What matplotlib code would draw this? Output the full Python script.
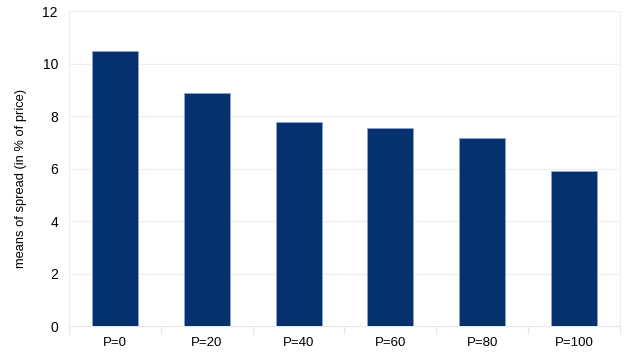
import matplotlib
matplotlib.use("Agg")
import matplotlib.pyplot as plt
import numpy as np

# means of spread per P level
labels = ['P=0', 'P=20', 'P=40', 'P=60', 'P=80', 'P=100']
spread = [10.46, 8.86, 7.78, 7.54, 7.18, 5.92]

plt.rcParams['font.family'] = ['Liberation Sans', 'DejaVu Sans']

fig = plt.figure(figsize=(6.28, 3.56), dpi=100)
ax = fig.add_axes([0.110, 0.084, 0.877, 0.885])

x = np.arange(len(labels))
ax.bar(x, spread, width=0.5, color='#06316f', edgecolor='#8aa6d0', linewidth=0.6, zorder=3)

ax.set_xlim(-0.5, len(labels) - 0.5)
ax.set_ylim(0, 12)
ax.set_yticks(range(0, 13, 2))
ax.set_xticks(x)
ax.set_xticklabels(labels)
ax.set_xticks(np.arange(-0.5, len(labels), 1), minor=True)

ax.grid(axis='y', color='#eeeeee', linewidth=0.8, zorder=0)
ax.spines['top'].set_visible(False)
ax.spines['left'].set_color('#eeeeee')
ax.spines['right'].set_color('#eeeeee')
ax.spines['bottom'].set_color('#e6e6e6')

ax.tick_params(axis='y', length=0, pad=8, labelsize=10)
ax.tick_params(axis='x', which='major', length=0, pad=8, labelsize=9.5)
ax.tick_params(axis='x', which='minor', length=6, color='#e6e6e6', width=0.8)

ax.set_ylabel('means of spread (in % of price)', fontsize=9.3)
ax.yaxis.set_label_coords(-0.076, 0.47)

plt.savefig('out.png', dpi=100)
